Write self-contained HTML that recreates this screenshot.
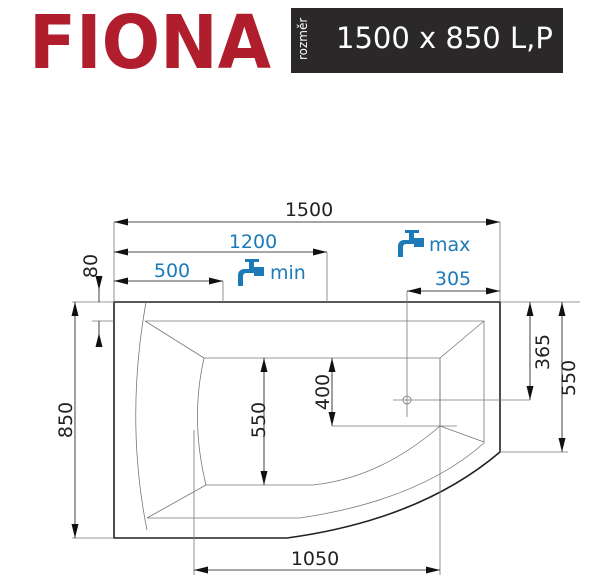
<!DOCTYPE html>
<html><head><style>
body{margin:0;background:#fff;width:600px;height:585px;overflow:hidden;position:relative;font-family:"DejaVu Sans","Liberation Sans",sans-serif}
.t{position:absolute}
</style></head><body>
<div class="t" style="left:29px;top:0px;font-size:74px;font-weight:bold;color:#b01e2e;letter-spacing:0px;font-family:'DejaVu Sans',sans-serif;transform:scaleX(0.93);transform-origin:left">FIONA</div>
<div class="t" style="left:291px;top:8px;width:272px;height:65px;background:#2a2828"></div>
<div class="t" style="left:283px;top:33px;color:#fff;font-size:12px;transform:rotate(-90deg);width:40px;text-align:center">rozměr</div>
<div class="t" style="left:336px;top:21px;color:#fff;font-size:29px">1500 x 850 L,P</div>
<svg width="600" height="585" style="position:absolute;left:0;top:0">
<defs><marker id="a" viewBox="0 0 12 6" refX="12" refY="3" markerWidth="14" markerHeight="7" orient="auto-start-reverse" markerUnits="userSpaceOnUse"><path d="M0,0L12,3L0,6z" fill="#111"/></marker></defs>
<g fill="none" stroke="#222" stroke-width="1.6">
<path d="M114,302H500V452Q420,520 287,538H114Z"/>
</g>
<g fill="none" stroke="#777" stroke-width="0.8">
<path d="M146,302Q125,420 147,530"/>
<path d="M145,321H484V443Q420,500 300,518H147"/>
<path d="M204,358H440V426Q380,478 313,485H206Q190,420 204,358"/>
<path d="M145,321L204,358M484,321L440,358M440,426L484,442M206,485L147,518"/>
<path d="M114,222V302M223,281V302M327,252V302M500,222V302M407,291V417M393,400H530M72,302H114M92,321H114M72,538H114M500,302H580M500,452H568M332,426H457M194,430V575M440,358V575"/>
<circle cx="407" cy="400" r="4"/>
</g>
<g stroke="#111" stroke-width="0.8" marker-start="url(#a)" marker-end="url(#a)">
<line x1="114" y1="222" x2="500" y2="222"/>
<line x1="114" y1="252" x2="327" y2="252"/>
<line x1="114" y1="281" x2="223" y2="281"/>
<line x1="407" y1="291" x2="500" y2="291"/>
<line x1="75" y1="302" x2="75" y2="538"/>
<line x1="530" y1="302" x2="530" y2="400"/>
<line x1="562" y1="302" x2="562" y2="452"/>
<line x1="264" y1="358" x2="264" y2="485"/>
<line x1="332" y1="358" x2="332" y2="426"/>
<line x1="194" y1="570" x2="440" y2="570"/>
</g>
<g stroke="#111" stroke-width="0.8">
<line x1="99" y1="283" x2="99" y2="290" marker-end="url(#a)"/>
<line x1="99" y1="302" x2="99" y2="290"/>
<line x1="99" y1="342" x2="99" y2="333" marker-end="url(#a)"/>
<line x1="99" y1="321" x2="99" y2="333"/>
</g>
<g fill="#1d7ab8">
<path d="M245,259h14v3h-5v5h10v9h-10v-3h-8a3,3 0 0 0-3,3v10h-5v-11a6,6 0 0 1 6-6h5v-7h-4z"/>
<path d="M405,230h14v3h-5v5h10v9h-10v-3h-8a3,3 0 0 0-3,3v10h-5v-11a6,6 0 0 1 6-6h5v-7h-4z"/>
</g>
<g font-family="DejaVu Sans,sans-serif" font-size="19" fill="#222" text-anchor="middle">
<text x="309" y="216">1500</text>
<text x="315" y="565">1050</text>
<text x="0" y="0" transform="translate(72,420) rotate(-90)">850</text>
<text x="0" y="0" transform="translate(97,266) rotate(-90)">80</text>
<text x="0" y="0" transform="translate(265,420) rotate(-90)">550</text>
<text x="0" y="0" transform="translate(329,392) rotate(-90)">400</text>
<text x="0" y="0" transform="translate(549,352) rotate(-90)">365</text>
<text x="0" y="0" transform="translate(575,378) rotate(-90)">550</text>
</g>
<g font-family="DejaVu Sans,sans-serif" font-size="19" fill="#1d7ab8">
<text x="253" y="248" text-anchor="middle">1200</text>
<text x="172" y="277" text-anchor="middle">500</text>
<text x="453" y="285" text-anchor="middle">305</text>
<text x="270" y="279">min</text>
<text x="429" y="251">max</text>
</g>
</svg>
</body></html>
